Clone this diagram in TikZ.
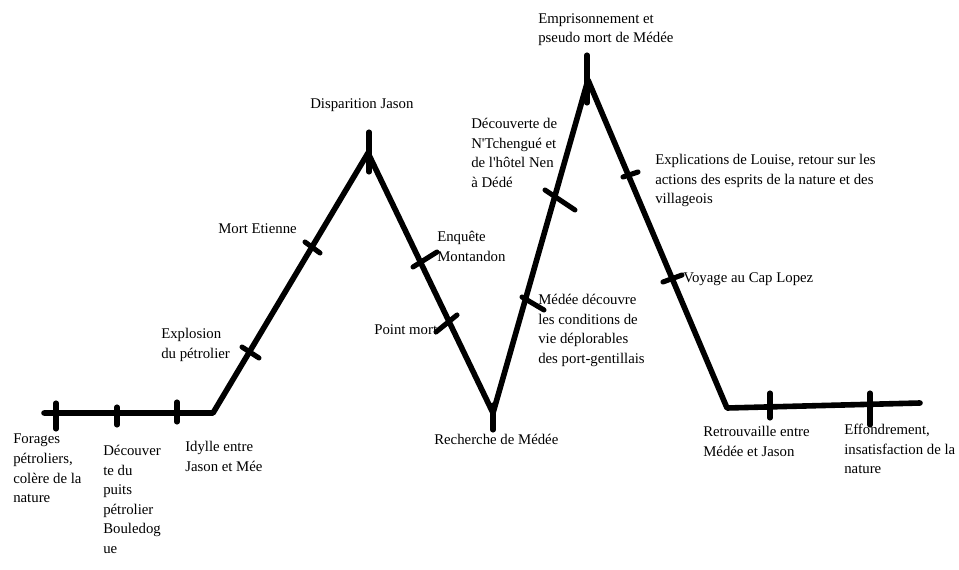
\documentclass[tikz,border=0pt]{standalone}
\usepackage{fontspec}
\setmainfont{Liberation Serif}[Ligatures={TeXOff,NoCommon}]
\begin{document}
\begin{tikzpicture}[x=0.75pt,y=-0.75pt,
  plot/.style={line width=4.2pt, line cap=round, line join=round, black},
  tick/.style={line width=3.8pt, line cap=round, black},
  lbl/.style={anchor=north west, inner sep=0pt, align=left,
    font=\fontsize{11.1}{14.7}\selectfont, execute at begin node=\strut}]
\useasboundingbox (0,0) rectangle (959,570);
% main vertices
\coordinate (a0) at (44,413);
\coordinate (a1) at (213,413);
\coordinate (p1) at (368,153);
\coordinate (v) at (493,413);
\coordinate (p2) at (588,80);
\coordinate (b0) at (727,408);
\coordinate (b1) at (920,403);
\draw[plot] (a0) -- (a1) -- (p1) -- (v) -- (p2) -- (b0) -- (b1);
% stubs at peaks and valley
\coordinate (p1t) at (369,132); \coordinate (p1b) at (369,172);
\coordinate (vt) at (493,405); \coordinate (vb) at (493,430);
\coordinate (p2t) at (587,55); \coordinate (p2b) at (587,103);
\draw[tick] (p1t) -- (p1b);
\draw[tick] (vt) -- (vb);
\draw[tick] (p2t) -- (p2b);
% ticks
\coordinate (t1a) at (56,403); \coordinate (t1b) at (56,429);
\coordinate (t2a) at (117,407); \coordinate (t2b) at (117,425);
\coordinate (t3a) at (177,402); \coordinate (t3b) at (177,422);
\coordinate (t4a) at (242,347); \coordinate (t4b) at (259,358);
\coordinate (t5a) at (305,242); \coordinate (t5b) at (320,253);
\coordinate (t6a) at (413,267); \coordinate (t6b) at (437,252);
\coordinate (t7a) at (436,332); \coordinate (t7b) at (457,315);
\coordinate (t8a) at (522,297); \coordinate (t8b) at (544,310);
\coordinate (t9a) at (545,190); \coordinate (t9b) at (575,210);
\coordinate (t10a) at (623,177); \coordinate (t10b) at (638,172);
\coordinate (t11a) at (663,282); \coordinate (t11b) at (682,275);
\coordinate (t12a) at (770,393); \coordinate (t12b) at (770,418);
\coordinate (t13a) at (870,393); \coordinate (t13b) at (870,425);
\foreach \t in {t1,t2,t3,t4,t5,t6,t7,t8,t9,t10,t11,t12,t13}
  \draw[tick] (\t a) -- (\t b);
% labels
\node[lbl] (forages) at (13,434) {Forages\\pétroliers,\\colère de la\\nature};
\node[lbl] (decouv) at (103,445) {Découver\\te du\\puits\\pétrolier\\Bouledog\\ue};
\node[lbl] (idylle) at (185,441) {Idylle entre\\Jason et Mée};
\node[lbl] (explo) at (161,328) {Explosion\\du pétrolier};
\node[lbl] (mortet) at (218,220) {Mort Etienne};
\node[lbl] (dispar) at (310,95) {Disparition Jason};
\node[lbl] (enq) at (437,231) {Enquête\\Montandon};
\node[lbl] (point) at (374,321) {Point mort};
\node[lbl] (rech) at (434,431) {Recherche de Médée};
\node[lbl] (medee) at (538,294) {Médée découvre\\les conditions de\\vie déplorables\\des port-gentillais};
\node[lbl] (ntch) at (471,118) {Découverte de\\N'Tchengué et\\de l'hôtel Nen\\à Dédé};
\node[lbl] (empr) at (538,13) {Emprisonnement et\\pseudo mort de Médée};
\node[lbl] (expl) at (655,154) {Explications de Louise, retour sur les\\actions des esprits de la nature et des\\villageois};
\node[lbl] (voy) at (683,269) {Voyage au Cap Lopez};
\node[lbl] (retr) at (703,426) {Retrouvaille entre\\Médée et Jason};
\node[lbl] (effo) at (844,424) {Effondrement,\\insatisfaction de la\\nature};
\end{tikzpicture}
\end{document}
